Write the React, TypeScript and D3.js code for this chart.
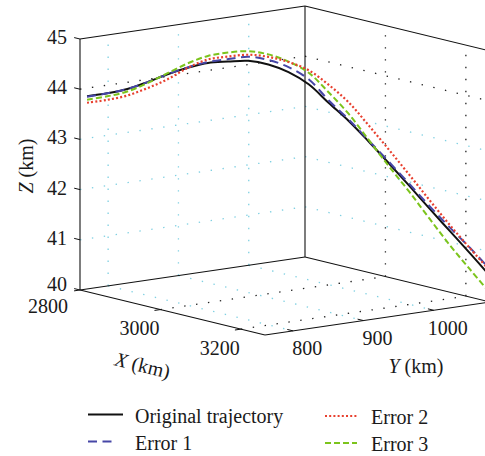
import React from 'react';
import * as d3 from 'd3';

// ---- axis domains & ticks ----
const xDomain = [2800, 3260];
const yDomain = [760, 1080];
const zDomain = [40, 45];
const xTicks = [2800, 3000, 3200];
const yTicks = [800, 900, 1000];
const zTicks = [40, 41, 42, 43, 44, 45];

// ---- ground track (km) ----
const trackX = [2800, 2823, 2846, 2869, 2892, 2915, 2938, 2961, 2984, 3007, 3030, 3053, 3076, 3099, 3122, 3145, 3168, 3191, 3214, 3237, 3260];
const trackY = [770, 785.5, 801, 816.5, 832, 847.5, 863, 878.5, 894, 909.5, 925, 940.5, 956, 971.5, 987, 1002.5, 1018, 1033.5, 1049, 1064.5, 1080];

// ---- altitude series (km) ----
const zOriginal = [43.84, 43.91, 44.01, 44.16, 44.33, 44.47, 44.58, 44.62, 44.65, 44.59, 44.45, 44.22, 43.86, 43.51, 43.11, 42.69, 42.26, 41.82, 41.39, 40.96, 40.52];
const zError1 = [43.83, 43.91, 44.01, 44.16, 44.33, 44.48, 44.6, 44.67, 44.73, 44.68, 44.55, 44.32, 43.91, 43.54, 43.13, 42.72, 42.3, 41.87, 41.46, 41.07, 40.65];
const zError2 = [43.71, 43.78, 43.88, 44.04, 44.23, 44.47, 44.65, 44.72, 44.77, 44.74, 44.65, 44.5, 44.22, 43.88, 43.43, 42.96, 42.48, 41.99, 41.51, 41.06, 40.62];
const zError3 = [43.77, 43.85, 43.96, 44.14, 44.35, 44.56, 44.72, 44.8, 44.84, 44.79, 44.66, 44.45, 44.07, 43.65, 43.14, 42.63, 42.14, 41.62, 41.11, 40.64, 40.18];

const seriesNames = ['Original trajectory', 'Error 1', 'Error 2', 'Error 3'];
const seriesZ: Record<string, number[]> = {
  'Original trajectory': zOriginal,
  'Error 1': zError1,
  'Error 2': zError2,
  'Error 3': zError3,
};

const styles: Record<string, { color: string; dash: string | undefined; width: number }> = {
  'Original trajectory': { color: '#111111', dash: undefined, width: 2 },
  'Error 1': { color: '#4646a6', dash: '9 5.5', width: 2 },
  'Error 2': { color: '#e8402f', dash: '2 2.2', width: 2.2 },
  'Error 3': { color: '#7cc41c', dash: '6 3', width: 2 },
};

// ---- projection (orthographic 3D view) ----
const origin = [80, 290];
const vx = [185, 45];
const vy = [225, -33];
const vz = [0, -251];
const fx = d3.scaleLinear().domain(xDomain).range([0, 1]);
const fy = d3.scaleLinear().domain(yDomain).range([0, 1]);
const fz = d3.scaleLinear().domain(zDomain).range([0, 1]);
function proj(x: number, y: number, z: number): [number, number] {
  const a = fx(x), b = fy(y), c = fz(z);
  return [origin[0] + a * vx[0] + b * vy[0] + c * vz[0], origin[1] + a * vx[1] + b * vy[1] + c * vz[1]];
}

const FONT = "'Times New Roman', 'Liberation Serif', Tinos, 'DejaVu Serif', 'Noto Serif', Georgia, serif";
const GRID_CYAN = '#7fd0e2';
const GRID_DARK = '#222222';
const textStyle = { fontFamily: FONT, fontSize: '20px' };

export default function App() {
  const [x0, x1] = xDomain;
  const [y0, y1] = yDomain;
  const [z0, z1] = zDomain;

  const seg = (p: [number, number], q: [number, number], key: string, props: any) => (
    <line key={key} x1={p[0]} y1={p[1]} x2={q[0]} y2={q[1]} {...props} />
  );

  // grid lines
  const grid: any[] = [];
  const dot = { strokeWidth: 1.3, strokeDasharray: '1.4 10.6', fill: 'none' };
  yTicks.forEach((y) => {
    grid.push(seg(proj(x0, y, z0), proj(x0, y, z1), `lwy${y}`, { ...dot, stroke: GRID_CYAN }));
    grid.push(seg(proj(x0, y, z0), proj(x1, y, z0), `fly${y}`, { ...dot, stroke: GRID_CYAN }));
  });
  xTicks.filter((x) => x > x0 && x < x1).forEach((x) => {
    grid.push(seg(proj(x, y1, z0), proj(x, y1, z1), `rwx${x}`, { ...dot, stroke: GRID_DARK }));
    grid.push(seg(proj(x, y0, z0), proj(x, y1, z0), `flx${x}`, { ...dot, stroke: GRID_DARK }));
  });
  zTicks.filter((z) => z > z0 && z < z1).forEach((z) => {
    const c = z === 44 ? GRID_DARK : GRID_CYAN;
    grid.push(seg(proj(x0, y0, z), proj(x0, y1, z), `lwz${z}`, { ...dot, stroke: c }));
    grid.push(seg(proj(x0, y1, z), proj(x1, y1, z), `rwz${z}`, { ...dot, stroke: c }));
  });

  // box edges
  const A = proj(x0, y0, z0), B = proj(x1, y0, z0), C = proj(x1, y1, z0), D = proj(x0, y1, z0);
  const At = proj(x0, y0, z1), Dt = proj(x0, y1, z1), Ct = proj(x1, y1, z1);
  const boxProps = { stroke: '#111', strokeWidth: 1.1, fill: 'none' };
  const box = [
    seg(A, B, 'ab', boxProps), seg(B, C, 'bc', boxProps), seg(A, D, 'ad', boxProps), seg(D, C, 'dc', boxProps),
    seg(A, At, 'aat', boxProps), seg(D, Dt, 'ddt', boxProps), seg(At, Dt, 'atdt', boxProps), seg(Dt, Ct, 'dtct', boxProps),
  ];

  // unit directions for ticks
  const lenX = Math.hypot(vx[0], vx[1]);
  const lenY = Math.hypot(vy[0], vy[1]);
  const ux = [vx[0] / lenX, vx[1] / lenX];
  const uy = [vy[0] / lenY, vy[1] / lenY];
  const TL = 6;

  const line = d3.line<[number, number]>().x((d) => d[0]).y((d) => d[1]).curve(d3.curveCatmullRom);

  const order = ['Original trajectory', 'Error 1', 'Error 3', 'Error 2'];

  return (
    <svg width={485} height={456} style={{ position: 'absolute', left: 0, top: 0, background: '#fff' }}>
      <rect x={0} y={0} width={485} height={456} fill="#fff" />
      <g>{grid}</g>
      <g>{box}</g>

      {/* Z ticks */}
      {zTicks.map((z, i) => {
        const p = proj(x0, y0, z);
        return (
          <g key={`zt${z}`}>
            <line x1={p[0]} y1={p[1]} x2={p[0] - ux[0] * TL} y2={p[1] - ux[1] * TL} stroke="#111" strokeWidth={1} />
            <text x={67} y={p[1] + (i === 0 ? 0.5 : 5)} textAnchor="end" style={textStyle} fill="#1a1a1a">{z}</text>
          </g>
        );
      })}
      {/* X ticks */}
      {xTicks.map((x, i) => {
        const p = proj(x, y0, z0);
        return (
          <g key={`xt${x}`}>
            <line x1={p[0]} y1={p[1]} x2={p[0] - uy[0] * TL} y2={p[1] - uy[1] * TL} stroke="#111" strokeWidth={1} />
            <text x={p[0] - (i === 0 ? 32 : 21)} y={p[1] + (i === 0 ? 23 : 25.5)} textAnchor="middle" style={textStyle} fill="#1a1a1a">{x}</text>
          </g>
        );
      })}
      {/* Y ticks */}
      {yTicks.map((y) => {
        const p = proj(x1, y, z0);
        return (
          <g key={`yt${y}`}>
            <line x1={p[0]} y1={p[1]} x2={p[0] - ux[0] * TL} y2={p[1] - ux[1] * TL} stroke="#111" strokeWidth={1} />
            <text x={p[0] + 14} y={p[1] + 24.5} textAnchor="middle" style={textStyle} fill="#1a1a1a">{y}</text>
          </g>
        );
      })}

      {/* axis labels */}
      <text transform="translate(33,166) rotate(-90)" textAnchor="middle" style={textStyle} fill="#1a1a1a">
        <tspan fontStyle="italic">Z</tspan> (km)
      </text>
      <text transform={`translate(141,372) rotate(${(Math.atan2(vx[1], vx[0]) * 180) / Math.PI})`} textAnchor="middle" style={textStyle} fill="#1a1a1a">
        <tspan fontStyle="italic">X</tspan> (km)
      </text>
      <text x={416} y={373} textAnchor="middle" style={textStyle} fill="#1a1a1a">
        <tspan fontStyle="italic">Y</tspan> (km)
      </text>

      {/* trajectories */}
      {order.map((name) => {
        const zs = seriesZ[name];
        const pts = trackX.map((x, i) => proj(x, trackY[i], zs[i]));
        const st = styles[name];
        return (
          <path key={name} d={line(pts) || ''} fill="none" stroke={st.color} strokeWidth={st.width} strokeDasharray={st.dash} />
        );
      })}

      {/* legend */}
      {seriesNames.map((name, i) => {
        const col = i === 0 || i === 1 ? 0 : 1;
        const row = i === 0 || i === 2 ? 0 : 1;
        const lx = col === 0 ? 88 : 325;
        const lw = col === 0 ? (i === 1 ? 28 : 35) : 32;
        const ly = (col === 0 ? 414.5 : 416) + row * 27;
        const tx = col === 0 ? 135 : 371;
        const ty = (col === 0 ? 423 : 424) + row * 27;
        const st = styles[name];
        return (
          <g key={`lg${name}`}>
            <line x1={lx} y1={ly} x2={lx + lw} y2={ly} stroke={st.color} strokeWidth={st.width} strokeDasharray={st.dash} />
            <text x={tx} y={ty} style={textStyle} fill="#1a1a1a">{name}</text>
          </g>
        );
      })}
    </svg>
  );
}
